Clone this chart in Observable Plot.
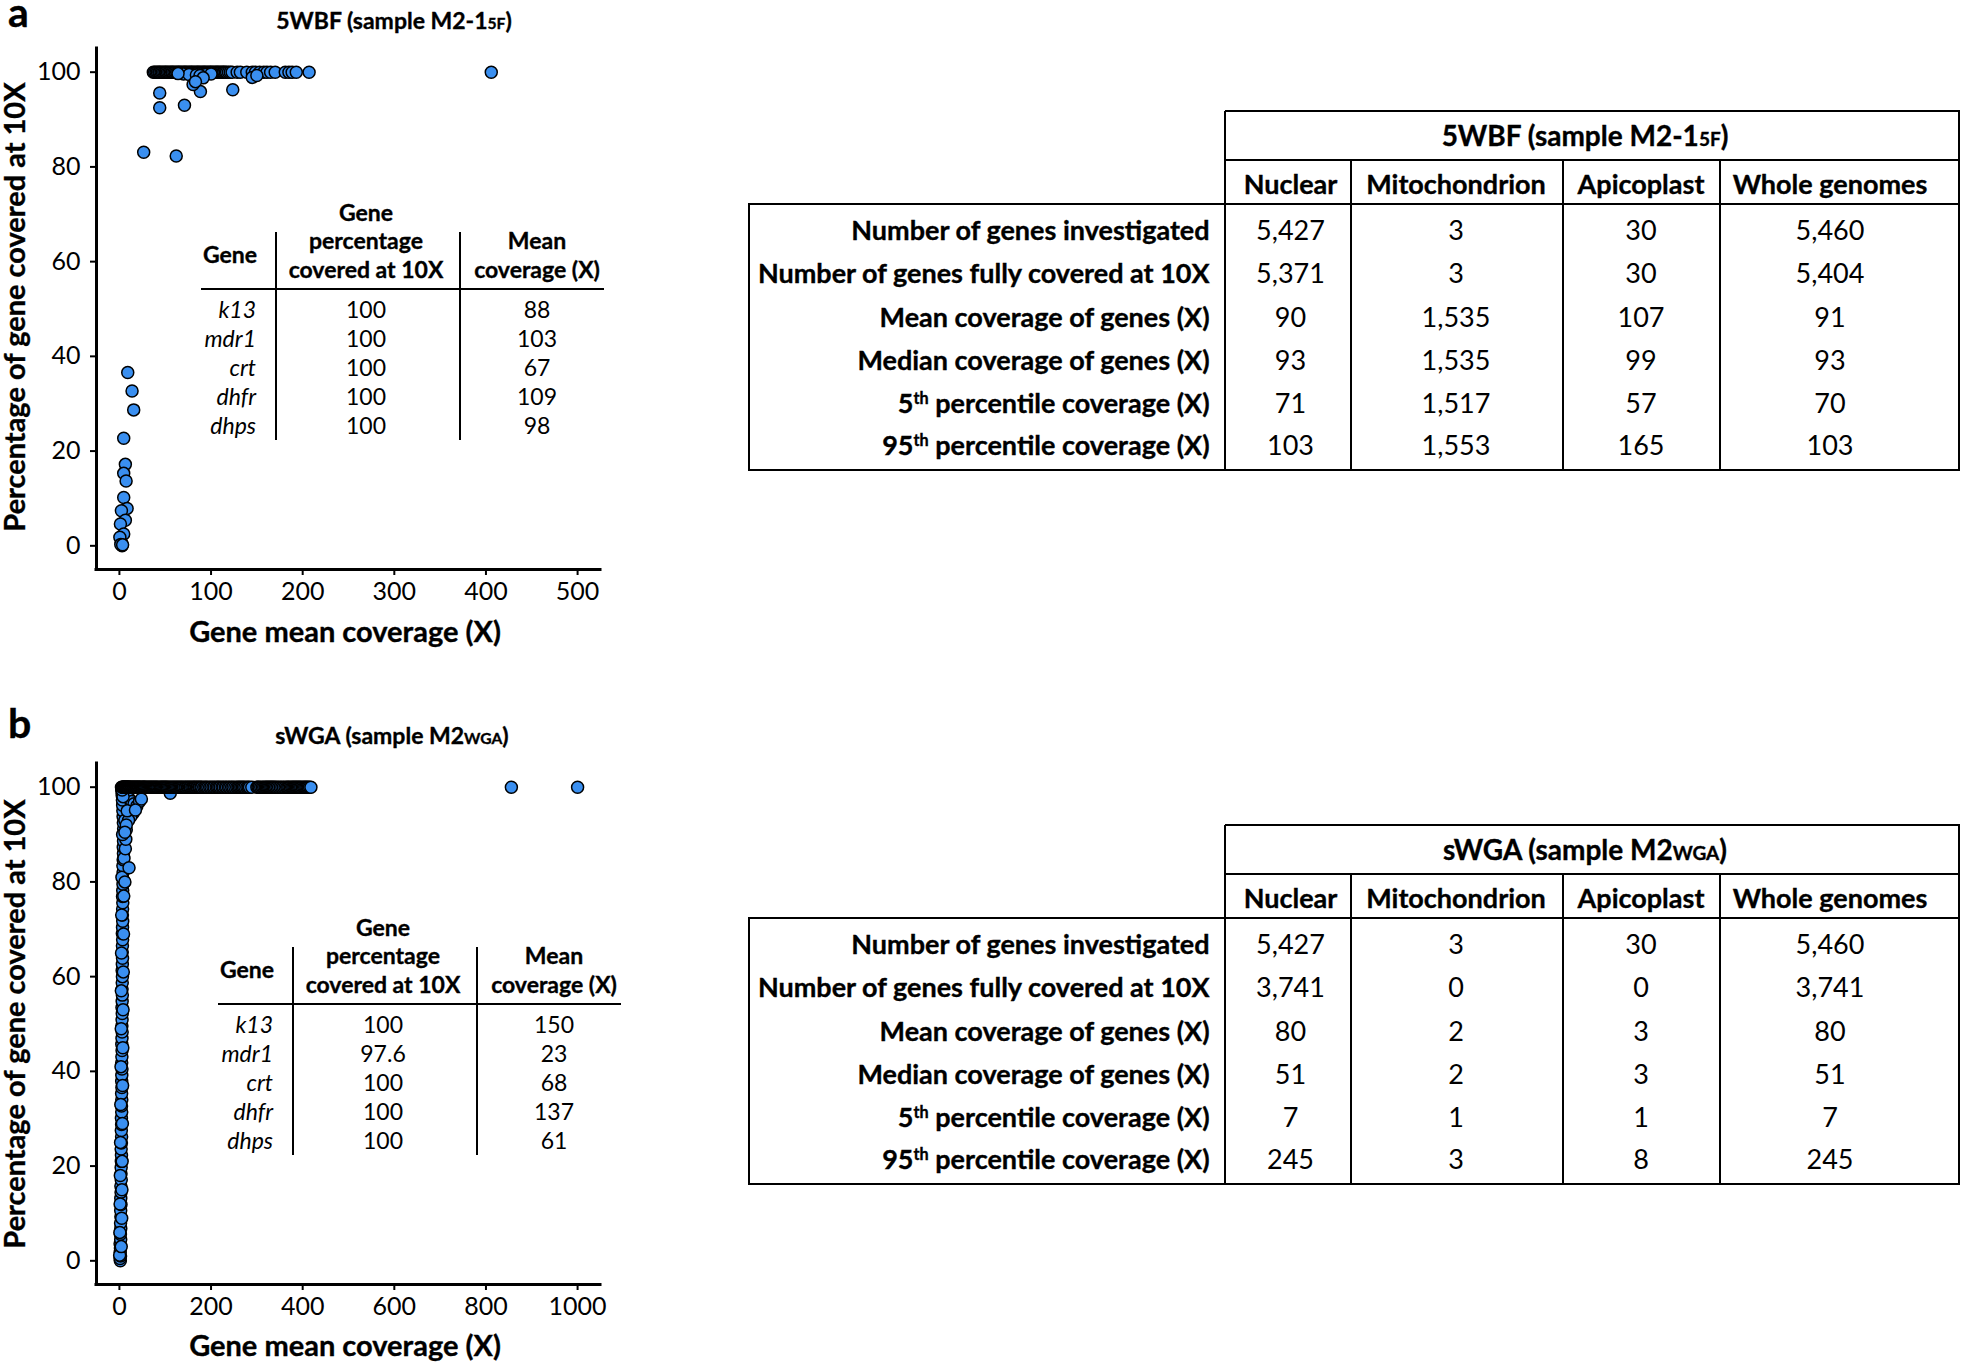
<!DOCTYPE html>
<html><head><meta charset="utf-8">
<script src="https://cdn.jsdelivr.net/npm/d3@7"></script>
<script src="https://cdn.jsdelivr.net/npm/@observablehq/plot@0.6"></script>
<style>
body{margin:0;background:white;}
#root{position:relative;width:1961px;height:1362px;font-family:Lato, sans-serif;color:#000;overflow:hidden;background:white}
.t{position:absolute;white-space:nowrap;line-height:1}
.b{-webkit-text-stroke:0.35px #000}
.ln{position:absolute;background:#000}
.plot{position:absolute}
sup{font-size:0.6em;vertical-align:0.5em;line-height:0}
.sub{font-size:0.68em}
</style></head>
<body><div id="root"></div>
<script>
// ---------------- DATA ----------------
const yTicks = [0, 20, 40, 60, 80, 100];
const aXTicks = [0, 100, 200, 300, 400, 500];
const bXTicks = [0, 200, 400, 600, 800, 1000];

// Panel a: [gene mean coverage (X), percentage of gene covered at 10X]
const aGenes = [
  [37,100],[38.5,100],[40,100],[41.5,100],[43,100],[44,100],[45.5,100],[47,100],[48.5,100],[50,100],
  [51,100],[52.5,100],[54,100],[55.5,100],[57,100],[58,100],[59.5,100],[61,100],[62.5,100],[64,100],
  [65,100],[66.5,100],[68,100],[69.5,100],[71,100],[72,100],[73.5,100],[75,100],[76.5,100],[78,100],
  [79,100],[80.5,100],[82,100],[83.5,100],[85,100],[86,100],[87.5,100],[89,100],[90.5,100],[92,100],
  [93,100],[94.5,100],[96,100],[97.5,100],[99,100],[100,100],[101.5,100],[103,100],[104.5,100],[106,100],
  [107,100],[108.5,100],[110,100],[111.5,100],[113,100],[114,100],[115.5,100],[117,100],[119,100],[121,100],
  [70,99.6],[76,99.5],[84,99.4],[94,99.5],[100,99.6],[64,99.7],[88,99.3],
  [123,100],[128.5,100],[132,100],[139,100],[145,100],[148.5,100],[153,100],[157.5,100],[161,100],
  [165,100],[170,100],[181,100],[185,100],[188.5,100],[193,100],[207,100],[405.8,100],
  [145,98.9],[150,99.3],
  [44,95.6],[44,92.5],[71,93],[26.5,83.1],[62,82.3],[88.4,95.9],[123.7,96.3],[80.4,97.4],[91.4,98.8],[83,98],
  [9.1,36.6],[13.8,32.7],[15.6,28.7],[4.7,22.7],[6.5,17.2],[4.7,15.3],[7.3,13.7],[4.7,10.2],[8.4,7.9],
  [2.2,7.4],[6.5,5.4],[1.1,4.6],[4.7,2.5],[2.2,0.7],[2.9,0],[0.5,1.8],[1.5,0.3],[3.5,0.2]
];

// Panel b
const bGenes = [
  [2,0],[1.5,0.5],[2.5,1],[1.8,1.8],[2.2,2.7],[1.5,3.6],[2.8,4.5],[2.2,5.6],[3,6.8],[2.5,8],
  [3.2,9.3],[2.8,10.6],[3.5,11.9],[3,13.2],[3.6,14.5],[3.2,15.8],[4,17.1],[3.5,18.4],[3.8,19.7],[4.2,21],
  [4.5,22.3],[3.8,23.6],[4.4,24.9],[4.8,26.2],[4.2,27.5],[4.8,28.8],[4.4,30.1],[5,31.4],[4.6,32.7],[5.2,34],
  [4.8,35.3],[5.4,36.6],[5,37.9],[5.2,39.2],[5.6,40.5],[5,41.8],[5.4,43.1],[5.8,44.4],[5.2,45.7],[5.6,47],
  [6,48.3],[5.4,49.6],[5.8,50.9],[6.2,52.2],[5.6,53.5],[6,54.8],[6.4,56.1],[5.8,57.4],[6.2,58.7],[6.6,60],
  [6,61.3],[6.4,62.6],[6.8,63.9],[6.2,65.2],[6.6,66.5],[7,67.8],[6.4,69.1],[6.8,70.4],[7.2,71.7],[6.6,73],
  [7,74.3],[7.4,75.6],[6.8,76.9],[7.2,78.2],[7.8,79.5],[7.4,80.8],[8,82.1],[7.6,83.4],[8.2,84.7],[8.8,86],
  [8.4,87.3],[9,88.6],[9.6,89.9],[9.2,91.2],[8.6,92.5],[8,93.8],[7.5,95],[7,96.2],[6.5,97.3],[6,98.3],
  [5.5,99.1],[5,99.7],[4.5,100],
  [0.5,1.2],[4,3],[1,6],[5,9],[1.5,12],[5.5,15],[2,18],[6,21],[2.5,25],[6.5,29],[3,33],[7,37],[3.5,41],
  [7.5,45],[4,49],[8,53],[4.2,57],[8.5,61],[4.6,65],[9,69],[5,73],[9.5,77],[5.5,81],[10,85],[12,80],
  [13,87],[14,89],[7,90],[12,93],[15,91],
  [21,83],[10,99],[13,98.5],[18,98],[22,97.5],[27,97],[32,96.5],[38,96],[44,97],[48,97.5],[30,94.5],
  [25,93.8],[20,93],[15,92],[12,90.5],[17,95],[35,95.2],[111,98.7],[8,98],[6,99.4],
  [6,100],[7,100],[8,100],[9,100],[10,100],[11,100],[12,100],[13,100],[14,100],[15,100],[16,100],[17,100],
  [18,100],[19,100],[20,100],[21,100],[22,100],[23.5,100],[25,100],[26.5,100],[28,100],[29.5,100],[31,100],
  [32.5,100],[34,100],[35.5,100],[37,100],[38.5,100],[40,100],[41.5,100],[43,100],[44.5,100],[46,100],
  [48,100],[50,100],[51.5,100],[53,100],[54.5,100],[56,100],[58,100],[60,100],[62,100],[64,100],[66,100],
  [68,100],[70,100],[72,100],[74,100],[76,100],[78,100],[80,100],[82,100],[84,100],[86.5,100],[89,100],
  [91,100],[93,100],[95,100],[97,100],[99,100],[101,100],[103,100],[105,100],[107.5,100],[110,100],
  [112.5,100],[115,100],[117.5,100],[120,100],[122.5,100],[125,100],[127.5,100],[130,100],[132.5,100],
  [135,100],[137.5,100],[140,100],[143,100],[145,100],[148,100],[150,100],[153,100],[155,100],[158,100],
  [160.5,100],[163,100],[165,100],[168,100],[170,100],[173,100],[175,100],[178,100],[180,100],[184,100],
  [187,100],[190,100],[193,100],[197,100],[200,100],[204,100],[207,100],[211,100],[214,100],[217,100],
  [220,100],[224,100],[227,100],[231,100],[234,100],[238,100],[241,100],[245,100],[248,100],[252,100],
  [256,100],[259,100],[262,100],[265,100],[268,100],[271,100],[274,100],[278,100],[281,100],[284,100],
  [289,100],[300,100],[302.5,100],[305,100],[308.5,100],[312,100],[315,100],[318,100],[320.5,100],
  [323,100],[325.5,100],[328,100],[330.5,100],[333,100],[335.5,100],[338,100],[341,100],[344,100],
  [347.5,100],[351,100],[354.5,100],[358,100],[361.5,100],[365,100],[367.5,100],[370,100],[373,100],
  [376,100],[378.5,100],[381,100],[383.5,100],[386,100],[388.5,100],[391,100],[393.5,100],[396,100],
  [399,100],[402,100],[404.5,100],[407,100],[409.5,100],[412,100],[415,100],[418,100],
  [855.5,100],[1000,100]
];

// Inset gene tables
const insetGenes = ["k13", "mdr1", "crt", "dhfr", "dhps"];
const aInsetPct = [100, 100, 100, 100, 100];
const aInsetMean = [88, 103, 67, 109, 98];
const bInsetPct = [100, 97.6, 100, 100, 100];
const bInsetMean = [150, 23, 68, 137, 61];

// Summary tables
const rowLabels = [
  "Number of genes investigated",
  "Number of genes fully covered at 10X",
  "Mean coverage of genes (X)",
  "Median coverage of genes (X)",
  "5<sup>th</sup> percentile coverage (X)",
  "95<sup>th</sup> percentile coverage (X)"
];
const compartments = ["Nuclear", "Mitochondrion", "Apicoplast", "Whole genomes"];
const aNuclear = [5427, 5371, 90, 93, 71, 103];
const aMito = [3, 3, 1535, 1535, 1517, 1553];
const aApico = [30, 30, 107, 99, 57, 165];
const aWhole = [5460, 5404, 91, 93, 70, 103];
const bNuclear = [5427, 3741, 80, 51, 7, 245];
const bMito = [3, 0, 2, 2, 1, 3];
const bApico = [30, 0, 3, 3, 1, 8];
const bWhole = [5460, 3741, 80, 51, 7, 245];

// ---------------- HELPERS ----------------
const root = document.getElementById("root");
function text(html, x, y, o = {}) {
  const {anchor = "middle", size = 22, weight = 400, italic = false, rotate = 0, lh = 1} = o;
  const d = document.createElement("div");
  d.className = "t" + (weight >= 700 ? " b" : "");
  d.innerHTML = html;
  d.style.left = x + "px";
  d.style.top = y + "px";
  d.style.fontSize = size + "px";
  d.style.fontWeight = weight;
  d.style.lineHeight = lh;
  if (italic) d.style.fontStyle = "italic";
  const tx = anchor === "middle" ? "-50%" : anchor === "end" ? "-100%" : "0";
  d.style.transform = `translate(${tx},-50%)` + (rotate ? ` rotate(${rotate}deg)` : "");
  root.appendChild(d);
}
function hline(x1, x2, y, w = 2) {
  const d = document.createElement("div"); d.className = "ln";
  Object.assign(d.style, {left: x1 + "px", top: (y - w / 2) + "px", width: (x2 - x1) + "px", height: w + "px"});
  root.appendChild(d);
}
function vline(x, y1, y2, w = 2) {
  const d = document.createElement("div"); d.className = "ln";
  Object.assign(d.style, {left: (x - w / 2) + "px", top: y1 + "px", width: w + "px", height: (y2 - y1) + "px"});
  root.appendChild(d);
}
const fmt = d3.format(",");

// ---------------- SCATTER PANELS ----------------
const yDomain = [-5, 105];
function scatter(genes, xDomain, xTicks, top) {
  const data = genes.map(([c, p]) => ({coverage: c, percent: p}));
  const svg = Plot.plot({
    width: 620, height: 580,
    marginLeft: 96, marginRight: 20, marginTop: 8, marginBottom: 51,
    x: {domain: xDomain},
    y: {domain: yDomain},
    style: {fontFamily: "Lato, sans-serif", fontSize: "25px", color: "black", background: "transparent", overflow: "visible"},
    marks: [
      Plot.axisX({ticks: xTicks, tickFormat: d3.format("d"), tickSize: 6, tickPadding: 7, strokeWidth: 2, fontSize: 25, label: null}),
      Plot.axisY({ticks: yTicks, tickFormat: d3.format("d"), tickSize: 6, tickPadding: 10, strokeWidth: 2, fontSize: 25, label: null}),
      Plot.ruleX([xDomain[0]], {y1: yDomain[0], y2: yDomain[1], strokeWidth: 3, strokeLinecap: "square"}),
      Plot.ruleY([yDomain[0]], {x1: xDomain[0], x2: xDomain[1], strokeWidth: 3, strokeLinecap: "square"}),
      Plot.dot(data, {x: "coverage", y: "percent", r: 6, fill: "#3a8ff0", stroke: "black", strokeWidth: 1.5})
    ]
  });
  svg.classList.add("plot");
  svg.style.left = "0px";
  svg.style.top = top + "px";
  root.appendChild(svg);
}
scatter(aGenes, [-25, 525], aXTicks, 40);
scatter(bGenes, [-50, 1050], bXTicks, 755);

// panel letters, titles, axis titles
text("a", 8, 12, {anchor: "start", size: 41, weight: 700, lh: 0.5});
text("b", 8, 723, {anchor: "start", size: 41, weight: 700, lh: 0.5});
text('5WBF (sample M2-1<span class="sub">5F</span>)', 394, 19.5, {size: 23, weight: 700});
text('sWGA (sample M2<span class="sub">WGA</span>)', 392, 735, {size: 23, weight: 700});
const xTitle = "Gene mean coverage (X)";
const yTitle = "Percentage of gene covered at 10X";
text(xTitle, 345, 630, {size: 29, weight: 700});
text(xTitle, 345, 1344, {size: 29, weight: 700});
text(yTitle, 14, 307, {size: 29, weight: 700, rotate: -90, lh: 0.9});
text(yTitle, 14, 1024, {size: 29, weight: 700, rotate: -90, lh: 0.9});

// ---------------- INSET TABLES ----------------
function inset(dx, dy, pct, mean) {
  const s = 23;
  text("Gene", 230 + dx, 254 + dy, {size: s, weight: 700});
  ["Gene", "percentage", "covered at 10X"].forEach((h, i) =>
    text(h, 366 + dx, [211.5, 240, 268.5][i] + dy, {size: s, weight: 700}));
  ["Mean", "coverage (X)"].forEach((h, i) =>
    text(h, 537 + dx, [240, 268.5][i] + dy, {size: s, weight: 700}));
  vline(275.5 + dx, 232 + dy, 440 + dy, 2);
  vline(459.5 + dx, 232 + dy, 440 + dy, 2);
  hline(201 + dx, 604 + dx, 289 + dy, 2);
  const rowY = [308.5, 337.5, 366.5, 395.5, 424.5];
  insetGenes.forEach((g, i) => {
    text(g, 256 + dx, rowY[i] + dy, {anchor: "end", size: s, italic: true});
    text(String(pct[i]), 366 + dx, rowY[i] + dy, {size: s});
    text(String(mean[i]), 537 + dx, rowY[i] + dy, {size: s});
  });
}
inset(0, 0, aInsetPct, aInsetMean);
inset(17, 715, bInsetPct, bInsetMean);

// ---------------- SUMMARY TABLES ----------------
function summary(dy, titleHtml, cols) {
  const s = 27;
  const left = 749, headLeft = 1225, right = 1959;
  const dividers = [1350.5, 1563, 1720];
  const colX = [1290.5, 1456, 1641, 1830];
  const rowY = [229.2, 272.4, 315.9, 358.8, 401.7, 444.2];
  hline(headLeft, right + 1, 110.7 + dy, 2);
  hline(headLeft, right + 1, 160 + dy, 2);
  hline(left - 1, right + 1, 204 + dy, 2.5);
  hline(left - 1, right + 1, 470 + dy, 2.5);
  vline(left, 204 + dy, 470 + dy, 2);
  vline(headLeft, 110.7 + dy, 470 + dy, 2);
  vline(right, 110.7 + dy, 470 + dy, 2);
  dividers.forEach(x => vline(x, 160 + dy, 470 + dy, 2));
  text(titleHtml, 1585, 134.5 + dy, {size: 28, weight: 700});
  compartments.forEach((c, j) => text(c, colX[j], 182.5 + dy, {size: s, weight: 700}));
  rowLabels.forEach((r, i) => {
    text(r, 1209.6, rowY[i] + dy, {anchor: "end", size: s, weight: 700});
    cols.forEach((col, j) => text(fmt(col[i]), colX[j], rowY[i] + dy, {size: s}));
  });
}
summary(0, '5WBF (sample M2-1<span class="sub">5F</span>)', [aNuclear, aMito, aApico, aWhole]);
summary(714, 'sWGA (sample M2<span class="sub">WGA</span>)', [bNuclear, bMito, bApico, bWhole]);
</script>
</body></html>
